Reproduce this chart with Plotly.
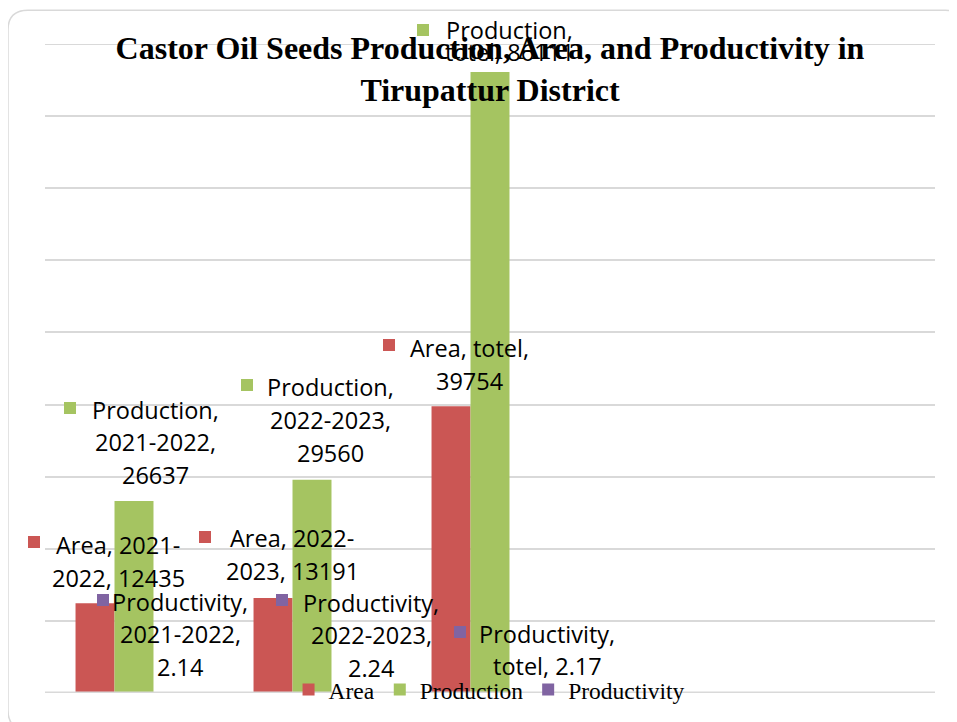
import re
import plotly.graph_objects as go

categories = ["2021-2022", "2022-2023", "totel"]
area = [12435, 13191, 39754]
production = [26637, 29560, 86111]
productivity = [2.14, 2.24, 2.17]

series_names = ["Area", "Production", "Productivity"]
series_values = [area, production, productivity]
colors = ["#CB5654", "#A5C461", "#8064A2"]

# label placement in pixels, relative to (category centre, value):
# text centre dx, first line dy, line step, key square dx, dy
label_pos = {
    ("Area", 0): (-16, 58, 33, -100, 61),
    ("Area", 1): (-20, 60, 33, -107, 61),
    ("Area", 2): (-21, 58, 33, -101, 61),
    ("Production", 0): (21, 91, 32.5, -64, 93),
    ("Production", 1): (18, 93, 33, -65, 95),
    ("Production", 2): (19, 42, 22, -67, 42),
    ("Productivity", 0): (46, 91, 32.5, -31, 93),
    ("Productivity", 1): (59, 90, 32.5, -30, 93),
    ("Productivity", 2): (57, 59, 32, -30, 61),
}


def wrap(text, width=12):
    # break after spaces and hyphens, like the spreadsheet labels do
    lines, line = [], ""
    for tok in re.split(r"(?<=[- ])", text):
        if line and len((line + tok).rstrip()) > width:
            lines.append(line.rstrip())
            line = tok
        else:
            line += tok
    lines.append(line.rstrip())
    return lines


fig = go.Figure()
for name, vals, col in zip(series_names, series_values, colors):
    fig.add_trace(go.Bar(x=list(range(len(categories))), y=vals, name=name,
                         marker_color=col, marker_line_width=0))

annotations = []
for name, vals, col in zip(series_names, series_values, colors):
    for i, (cat, v) in enumerate(zip(categories, vals)):
        dx, dy, step, sdx, sdy = label_pos[(name, i)]
        for k, line in enumerate(wrap(f"{name}, {cat}, {v}")):
            annotations.append(dict(
                x=i, y=v, xref="x", yref="y", text=line, showarrow=False,
                xshift=dx, yshift=dy - k * step, xanchor="center", yanchor="middle",
                font=dict(family="Open Sans", size=23.5, color="#000000")))
        # legend key square in front of the label
        annotations.append(dict(
            x=i, y=v, xref="x", yref="y", text=" ", showarrow=False,
            xshift=sdx, yshift=sdy, xanchor="center", yanchor="middle",
            width=12, height=12, bgcolor=col, borderpad=0, borderwidth=0,
            font=dict(size=1)))

# rounded chart border
rx, ry = 20 / 890, 20 / 649
x0, x1, y0, y1 = -0.0416, 1.034, -0.057, 1.052
path = (f"M {x0+rx},{y1} L {x1-rx},{y1} Q {x1},{y1} {x1},{y1-ry} "
        f"L {x1},{y0+ry} Q {x1},{y0} {x1-rx},{y0} L {x0+rx},{y0} "
        f"Q {x0},{y0} {x0},{y0+ry} L {x0},{y1-ry} Q {x0},{y1} {x0+rx},{y1} Z")
shapes = [dict(type="path", xref="paper", yref="paper", path=path,
               line=dict(color="#d9d9d9", width=1.5), layer="below")]

fig.update_layout(
    width=957, height=722,
    margin=dict(l=37, r=30, t=36, b=37),
    paper_bgcolor="white", plot_bgcolor="white",
    barmode="group", bargap=0.343, bargroupgap=0,
    title=dict(text="<b>Castor Oil Seeds Production, Area, and Productivity in<br>Tirupattur District</b>",
               x=0.5, xref="paper", xanchor="center", y=0.929, yref="container", yanchor="middle",
               font=dict(family="Liberation Serif", size=32, color="#000000")),
    legend=dict(orientation="h", x=0.4995, xanchor="center", y=0.005, yanchor="middle",
                font=dict(family="Liberation Serif", size=23.5, color="#000000"),
                bgcolor="rgba(0,0,0,0)", itemwidth=30, traceorder="normal"),
    annotations=annotations, shapes=shapes,
)
fig.update_xaxes(range=[-0.5, 4.5], showticklabels=False, showgrid=False,
                 zeroline=False, showline=False, ticks="")
fig.update_yaxes(range=[0, 90000], dtick=10000, showticklabels=False, showgrid=True,
                 gridcolor="#d9d9d9", gridwidth=2, zeroline=False, showline=False,
                 ticks="")
fig.add_hline(y=90000, line_color="#d9d9d9", line_width=2, layer="below")
# category axis baseline sits on top of the bars
fig.add_hline(y=0, line_color="#d9d9d9", line_width=3, layer="above")

fig.write_html("out.html")
